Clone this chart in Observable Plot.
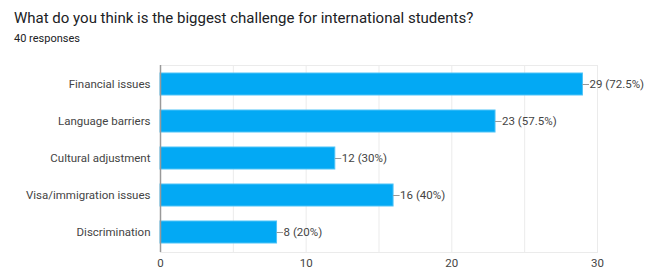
<!DOCTYPE html>
<html><head><meta charset="utf-8">
<script src="https://cdn.jsdelivr.net/npm/d3@7"></script>
<script src="https://cdn.jsdelivr.net/npm/@observablehq/plot@0.6"></script>
<style>
body{margin:0;background:#fff;font-family:Roboto,Arial,sans-serif;}
#title{position:absolute;left:14px;top:9px;font-size:15px;color:#202124;}
#sub{position:absolute;left:14px;top:32px;font-size:11px;color:#202124;}
#chart{position:absolute;left:0;top:55px;}
</style></head><body>
<div id="title">What do you think is the biggest challenge for international students?</div>
<div id="sub">40 responses</div>
<div id="chart"></div>
<script>
const categories = ["Financial issues","Language barriers","Cultural adjustment","Visa/immigration issues","Discrimination"];
const counts = [29,23,12,16,8];
const labels = ["29 (72.5%)","23 (57.5%)","12 (30%)","16 (40%)","8 (20%)"];
const xTicks = [0,10,20,30];
const gridLines = [0,5,10,15,20,25,30];
const data = categories.map((c,i)=>({cat:c, value:counts[i], label:labels[i]}));
const chart = Plot.plot({
  width:657, height:214,
  marginLeft:160, marginRight:60, marginTop:10, marginBottom:17,
  style:{fontFamily:"Roboto,Arial,sans-serif", fontSize:"11.5px", color:"#444"},
  x:{domain:[0,30], ticks:xTicks, tickSize:0, tickPadding:6, label:null},
  y:{domain:categories, paddingInner:0.4, paddingOuter:0.2, tickSize:0, tickPadding:10, label:null},
  marks:[
    Plot.ruleX(gridLines, {stroke:"#ebebeb"}),
    Plot.frame({stroke:"#ebebeb"}),
    Plot.barX(data, {y:"cat", x:"value", fill:"#03a9f4", stroke:"#4fc3f7", strokeWidth:1}),
    Plot.ruleX([0], {stroke:"#999", strokeWidth:1.5}),
    Plot.ruleY(data, {y:"cat", x1:"value", x2:d=>d.value+0.45, stroke:"#999"}),
    Plot.text(data, {y:"cat", x:d=>d.value+0.45, text:"label", textAnchor:"start", fill:"#444", fontSize:11.5})
  ]
});
document.getElementById("chart").appendChild(chart);
</script></body></html>
